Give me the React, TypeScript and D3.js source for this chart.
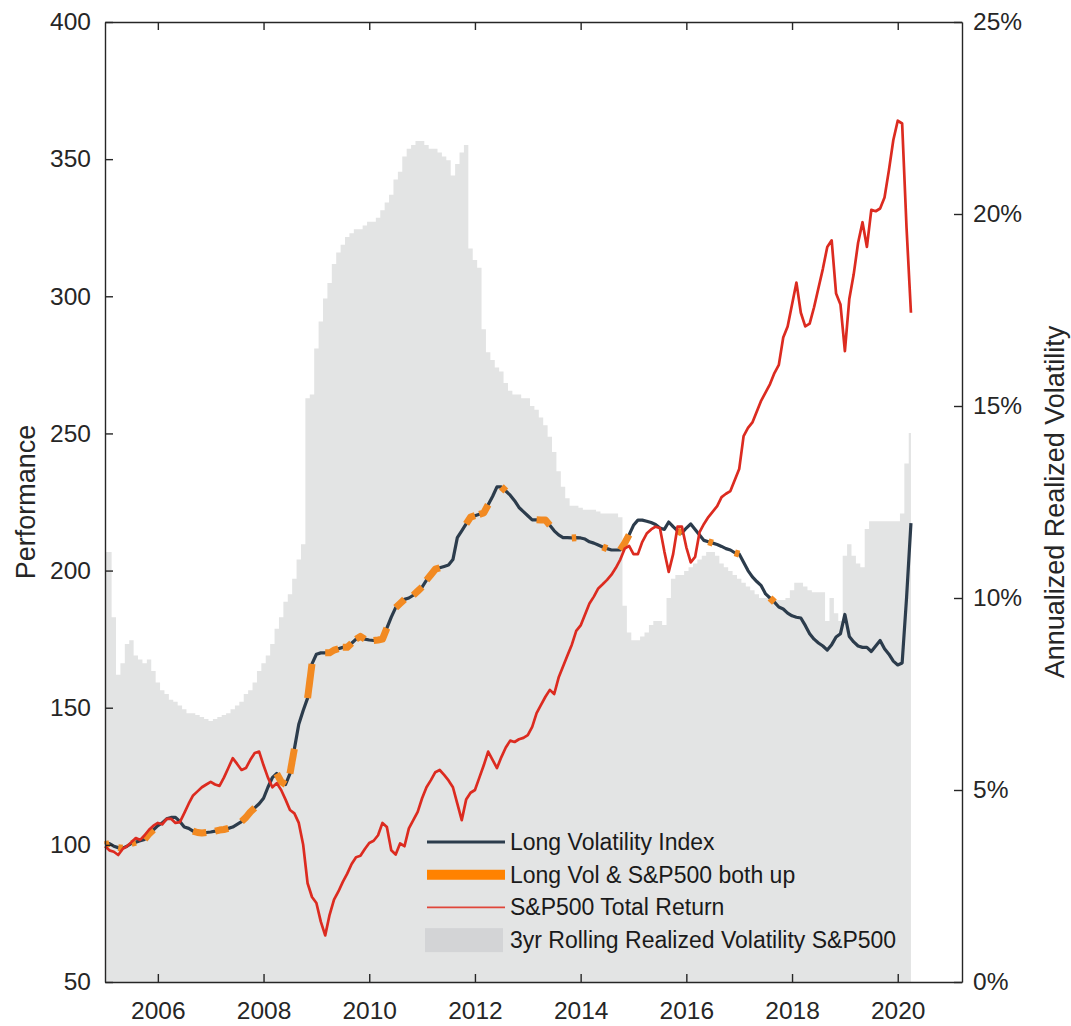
import { useEffect, useRef } from 'react';
import * as d3 from 'd3';

// Monthly data, first value = Jan 2005
const startYear = 2005;

const yearTicks = [2006, 2008, 2010, 2012, 2014, 2016, 2018, 2020];
const perfTicks = [50, 100, 150, 200, 250, 300, 350, 400];
const volTicks = [0, 5, 10, 15, 20, 25];

// 3yr rolling realized volatility of the S&P500, in %
const realizedVol = [
  11.2, 11.2, 9.5, 8.0, 8.3, 8.8, 8.9, 8.5, 8.4, 8.3, 8.4, 8.1,
  7.8, 7.6, 7.5, 7.35, 7.3, 7.2, 7.1, 7.0, 7.0, 6.95, 6.9, 6.85,
  6.8, 6.85, 6.9, 6.95, 7.0, 7.1, 7.2, 7.3, 7.5, 7.6, 7.8, 8.1,
  8.3, 8.5, 8.8, 9.2, 9.5, 9.9, 10.1, 10.5, 11.0, 11.4, 15.2, 15.3,
  16.5, 17.2, 17.8, 18.2, 18.7, 19.0, 19.2, 19.4, 19.5, 19.6, 19.6, 19.7,
  19.8, 19.8, 19.9, 20.1, 20.3, 20.5, 20.9, 21.1, 21.5, 21.7, 21.8, 21.9,
  21.9, 21.8, 21.7, 21.7, 21.6, 21.5, 21.4, 21.0, 21.3, 21.6, 21.8, 19.1,
  18.8, 18.6, 17.0, 16.4, 16.2, 16.0, 15.9, 15.6, 15.4, 15.3, 15.3, 15.2,
  15.2, 15.0, 14.9, 14.7, 14.5, 14.2, 13.8, 13.3, 12.9, 12.6, 12.4, 12.4,
  12.35, 12.3, 12.3, 12.3, 12.25, 12.2, 12.2, 12.2, 12.2, 12.1, 9.8, 9.1,
  8.9, 8.9, 9.0, 9.1, 9.3, 9.4, 9.4, 9.3, 10.0, 10.5, 10.6, 10.6,
  10.7, 10.8, 10.9, 11.0, 11.1, 11.2, 11.2, 11.1, 10.9, 10.8, 10.7, 10.6,
  10.5, 10.4, 10.3, 10.2, 10.1, 10.0, 10.0, 10.0, 9.95, 9.95, 9.95, 10.0,
  10.2, 10.4, 10.4, 10.3, 10.2, 10.15, 10.15, 10.15, 9.4, 10.0, 9.6, 9.4,
  11.1, 11.4, 11.1, 10.9, 10.8, 11.8, 12.0, 12.0, 12.0, 12.0, 12.0, 12.0,
  12.0, 12.2, 13.5, 14.3,
];

const longVolIndex = [
  100, 100.5, 99.5, 99, 98.8, 99.5, 100.5, 101, 101.5, 102, 104, 105.5,
  107, 108, 109.5, 110, 110, 108.5, 106.5, 106, 105, 104.5, 104.3, 104.5,
  104.7, 105, 105.4, 105.6, 106, 106.5, 107.5, 108.5, 110, 112, 113.5, 115,
  117, 121, 124.5, 126, 123, 122, 126, 135, 144, 149, 153.5, 166,
  169.5, 170, 170, 170, 171, 171.5, 172, 172, 173.5, 175, 176, 175,
  174.7, 174.5, 174.7, 175, 179, 183, 186.5, 188, 189.5, 190, 191, 192.5,
  194, 196.5, 198.5, 200.5, 201, 201.5, 202, 204, 212, 214.5, 217, 219.5,
  220, 220.5, 221, 224, 227, 230.5, 230.5, 229, 227.5, 225.5, 223, 221.5,
  220, 218.5, 218.5, 218.4, 218.4, 216.5, 214.5, 213, 212, 212, 211.9, 212,
  211.9, 211.5, 210.5, 210, 209.3, 208.6, 208, 207.5, 207.5, 207.5, 210, 213,
  216.5, 218.4, 218.4, 218, 217.5, 216.8, 215.5, 215, 217.7, 216, 214.5, 213.7,
  215.5, 217, 215, 213, 211, 210.5, 210, 209.5, 208.8, 208, 207.5, 206.5,
  206, 203, 200, 197.7, 196, 194.5, 191.5, 190, 188.5, 186.7, 186, 184.5,
  183.5, 183, 182.7, 180, 177, 175, 173.6, 172.5, 171, 173, 175.8, 177,
  184, 176, 174, 172.5, 172, 172, 170.5, 172.5, 174.5, 171.5, 169.5, 167,
  165.6, 166.3, 190, 217.3,
];

const sp500TotalReturn = [
  99.5, 98, 97.5, 96.3, 98.5, 99.5, 101, 102.5, 101.8, 103.5, 105.5, 107,
  108, 107.5, 109.5, 109.5, 108, 108.3, 111.6, 115, 118, 119.5, 121, 122,
  123, 122, 121.5, 124.5, 128, 131.6, 129.5, 127.3, 128, 131, 133.5, 134,
  129, 124.5, 121, 122.5, 120, 116.5, 112.7, 111.5, 108, 100, 86, 81,
  78.8, 72, 67, 74.5, 80, 83, 86.5, 89.5, 93, 95.5, 96, 98.5,
  100.7, 101.5, 103.5, 108, 106.5, 98, 96.5, 100.5, 99.5, 106, 109, 112,
  117, 121, 123.6, 126.5, 127.3, 125.5, 123.5, 121, 115, 109, 116.5, 119,
  120, 124.5, 129, 134, 131, 128, 132, 135.5, 138, 137.5, 138.5, 139,
  140, 143, 148, 151, 154, 156.5, 155, 161, 165, 169, 173, 178,
  180, 184, 188, 190.5, 193.5, 195, 196.6, 198.5, 201, 204, 208, 209,
  206, 206, 210.5, 213.5, 215, 216, 215.5, 207, 199.5, 206, 216, 216,
  208.5, 203, 205, 214, 217, 219.5, 221.5, 223.5, 226.8, 228, 229, 233,
  237, 249, 252, 254, 258, 262, 265, 268, 272, 275, 285, 289,
  297, 305, 294, 289, 290, 296, 303, 310, 318, 320.4, 301, 297,
  280, 299, 308, 319.5, 327, 318, 331.5, 331, 332, 336, 346, 357,
  364, 363, 325, 294,
];

// periods where Long Vol and the S&P500 both went up (first month, last month)
const bothUpPeriods = [
  ['2005-01', '2005-02'], ['2005-04', '2005-05'], ['2005-07', '2005-08'], ['2005-10', '2005-12'],
  ['2006-09', '2006-12'], ['2007-02', '2007-05'], ['2007-08', '2007-11'], ['2008-04', '2008-06'],
  ['2008-07', '2008-08'], ['2008-11', '2008-12'], ['2009-03', '2009-06'], ['2009-07', '2009-09'],
  ['2009-10', '2009-12'], ['2010-02', '2010-05'], ['2010-07', '2010-09'], ['2010-11', '2011-01'],
  ['2011-02', '2011-05'], ['2011-11', '2012-01'], ['2012-02', '2012-04'], ['2012-07', '2012-08'],
  ['2013-03', '2013-06'], ['2013-11', '2013-12'], ['2014-06', '2014-07'], ['2014-10', '2014-12'],
  ['2015-11', '2015-12'], ['2016-06', '2016-07'], ['2016-12', '2017-01'], ['2017-08', '2017-09'],
];

const legendLabels = [
  'Long Volatility Index',
  'Long Vol & S&P500 both up',
  'S&P500 Total Return',
  '3yr Rolling Realized Volatility S&P500',
];

function App() {
  const d3Ref = useRef<SVGSVGElement>(null);

  const width = 1071;
  const height = 1026;

  useEffect(() => {
    const svg = d3.select(d3Ref.current);
    svg.selectAll('*').remove();

    const left = 105, right = 962, top = 22, bottom = 982;
    const axisColor = '#262626';
    const font = '"Liberation Sans", Arial, Helvetica, sans-serif';
    const navy = '#2c3c4c';
    const orange = '#f28a22';
    const red = '#dc2b20';
    const areaColor = '#e3e4e4';

    const monthX = (i: number) => startYear + i / 12;
    const idx = (s: string) => {
      const [y, m] = s.split('-').map(Number);
      return (y - startYear) * 12 + (m - 1);
    };

    // Scales
    const x = d3.scaleLinear().domain([2005, 2021.216]).range([left, right]);
    const yPerf = d3.scaleLinear().domain([50, 400]).range([bottom, top]);
    const yVol = d3.scaleLinear().domain([0, 25]).range([bottom, top]);

    // Volatility area (right axis)
    const area = d3.area<number>()
      .x((_, i) => x(monthX(i)))
      .y0(yVol(0))
      .y1((d) => yVol(d))
      .curve(d3.curveStep);

    svg.append('path')
      .datum(realizedVol)
      .attr('d', area)
      .attr('fill', areaColor);

    // Long volatility index
    const line = d3.line<[number, number]>()
      .x((d) => x(d[0]))
      .y((d) => yPerf(d[1]));

    const lvPoints = longVolIndex.map((v, i) => [monthX(i), v] as [number, number]);
    svg.append('path')
      .datum(lvPoints)
      .attr('d', line)
      .attr('fill', 'none')
      .attr('stroke', navy)
      .attr('stroke-width', 3.2)
      .attr('stroke-linejoin', 'round');

    // Both-up highlights
    svg.append('g')
      .selectAll('path')
      .data(bothUpPeriods)
      .join('path')
      .attr('d', (p) => line(lvPoints.slice(idx(p[0]), idx(p[1]) + 1)))
      .attr('fill', 'none')
      .attr('stroke', orange)
      .attr('stroke-width', 7)
      .attr('stroke-linejoin', 'round');

    // S&P500 total return
    svg.append('path')
      .datum(sp500TotalReturn.map((v, i) => [monthX(i), v] as [number, number]))
      .attr('d', line)
      .attr('fill', 'none')
      .attr('stroke', red)
      .attr('stroke-width', 2.7)
      .attr('stroke-linejoin', 'round');

    // Axes
    const styleAxis = (g: any, size: number) => {
      g.selectAll('.domain').attr('stroke', axisColor).attr('stroke-width', 1.4);
      g.selectAll('.tick line').attr('stroke', axisColor).attr('stroke-width', 1.4);
      g.selectAll('.tick text')
        .attr('fill', axisColor)
        .attr('font-size', size)
        .attr('font-family', font);
    };

    svg.append('g')
      .attr('transform', `translate(0,${bottom})`)
      .call(d3.axisBottom(x).tickValues(yearTicks).tickFormat(d3.format('d')).tickSizeInner(-8).tickSizeOuter(0).tickPadding(20) as any)
      .call((g: any) => styleAxis(g, 24.5));

    svg.append('g')
      .attr('transform', `translate(0,${top})`)
      .call(d3.axisTop(x).tickValues(yearTicks).tickFormat(() => '').tickSizeInner(-8).tickSizeOuter(0) as any)
      .call((g: any) => styleAxis(g, 24.5));

    svg.append('g')
      .attr('transform', `translate(${left},0)`)
      .call(d3.axisLeft(yPerf).tickValues(perfTicks).tickSizeInner(-8).tickSizeOuter(0).tickPadding(14) as any)
      .call((g: any) => styleAxis(g, 24.5));

    svg.append('g')
      .attr('transform', `translate(${right},0)`)
      .call(d3.axisRight(yVol).tickValues(volTicks).tickFormat((d: any) => `${d}%`).tickSizeInner(-8).tickSizeOuter(0).tickPadding(11) as any)
      .call((g: any) => styleAxis(g, 24.5));

    // Axis titles
    svg.append('text')
      .attr('transform', `translate(35,${(top + bottom) / 2}) rotate(-90)`)
      .attr('text-anchor', 'middle')
      .attr('font-family', font)
      .attr('font-size', 27)
      .attr('fill', axisColor)
      .text('Performance');

    svg.append('text')
      .attr('transform', `translate(1064,${(top + bottom) / 2}) rotate(-90)`)
      .attr('text-anchor', 'middle')
      .attr('font-family', font)
      .attr('font-size', 27)
      .attr('fill', axisColor)
      .text('Annualized Realized Volatility');

    // Legend
    const lg = svg.append('g').attr('transform', 'translate(427,842)');
    const rowGap = 32.7;
    lg.append('line').attr('x1', 0).attr('x2', 78).attr('y1', 0).attr('y2', 0)
      .attr('stroke', navy).attr('stroke-width', 3);
    lg.append('line').attr('x1', 0).attr('x2', 78).attr('y1', rowGap).attr('y2', rowGap)
      .attr('stroke', '#ff8200').attr('stroke-width', 10);
    lg.append('line').attr('x1', 0).attr('x2', 78).attr('y1', rowGap * 2).attr('y2', rowGap * 2)
      .attr('stroke', '#e0463a').attr('stroke-width', 1.6);
    lg.append('rect').attr('x', -2).attr('y', rowGap * 3 - 12).attr('width', 78).attr('height', 24)
      .attr('fill', '#d3d4d6');

    lg.selectAll('text.label')
      .data(legendLabels)
      .join('text')
      .attr('class', 'label')
      .attr('x', 83)
      .attr('y', (_, i) => i * rowGap + 8)
      .attr('font-family', font)
      .attr('font-size', 23)
      .attr('fill', '#1a1a1a')
      .text((d) => d);
  }, [d3Ref]);

  return (
    <svg
      ref={d3Ref}
      width={width}
      height={height}
      style={{ position: 'absolute', left: 0, top: 0, background: '#fff' }}
    />
  );
}

export default App;
